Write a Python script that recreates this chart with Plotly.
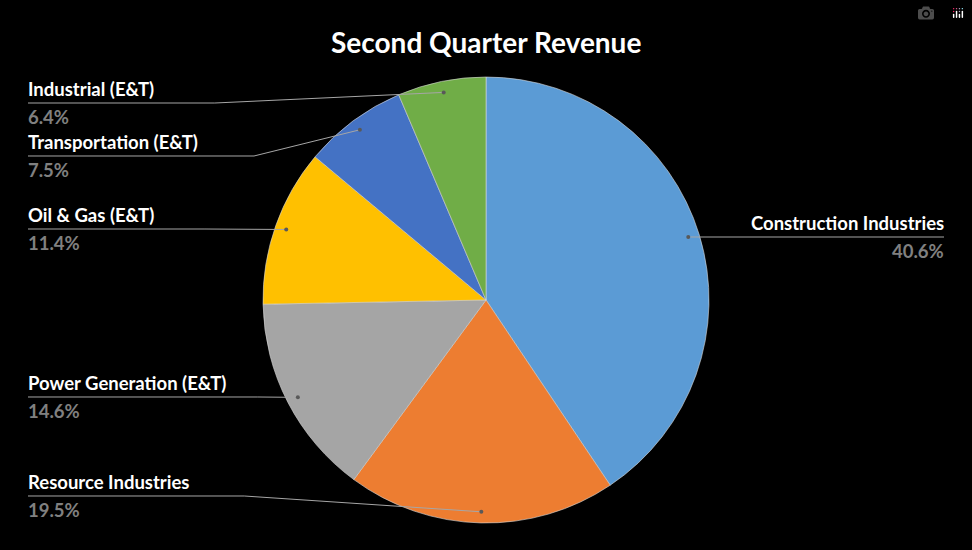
import math
import plotly.graph_objects as go

labels = ["Construction Industries", "Resource Industries", "Power Generation (E&T)",
          "Oil & Gas (E&T)", "Transportation (E&T)", "Industrial (E&T)"]
values = [40.6, 19.5, 14.6, 11.4, 7.5, 6.4]
colors = ["#5b9bd5", "#ed7d31", "#a5a5a5", "#ffc000", "#4472c4", "#70ad47"]
# label line y positions (pixels) and side
label_line_y = [237, 496, 397, 229, 156, 103]
label_side = ["right", "left", "left", "left", "left", "left"]

W, H = 972, 550
cx, cy, R = 486, 300, 223
FONT = "Lato"
FS = 18.5

fig = go.Figure(go.Pie(
    labels=labels, values=values, sort=False, direction="clockwise", rotation=0,
    marker=dict(colors=colors, line=dict(color="#d9d9d9", width=0.6)),
    textinfo="none", hoverinfo="label+percent", showlegend=False,
    domain=dict(x=[0, 1], y=[(H - (cy + R)) / H, (H - (cy - R)) / H]),
))

def px(x):
    return x / W

def py(y):
    return 1 - y / H

shapes, annots = [], []
total = sum(values)
cum = 0
for lab, v, ly, side in zip(labels, values, label_line_y, label_side):
    mid = 2 * math.pi * (cum + v / 2) / total
    cum += v
    r = 0.95 * R
    if side == "right":
        dy = ly - cy
        dx = math.sqrt(max(r * r - dy * dy, 0))
        dot = (cx + dx, ly)
        shapes.append(dict(type="line", xref="paper", yref="paper",
                           x0=px(944), x1=px(dot[0] + 2), y0=py(ly), y1=py(ly),
                           line=dict(color="#a6a6a6", width=1)))
        xa, xanc = 946, "right"
    else:
        dot = (cx + r * math.sin(mid), cy - r * math.cos(mid))
        xend = 28 + 9.8 * len(lab) + 30
        xend = min(xend, dot[0] - 40)
        shapes.append(dict(type="path", xref="paper", yref="paper",
                           path="M %f %f L %f %f L %f %f" % (px(28), py(ly), px(xend), py(ly), px(dot[0]), py(dot[1])),
                           line=dict(color="#a6a6a6", width=1)))
        xa, xanc = 26, "left"
    annots.append(dict(x=px(xa), y=py(ly - 1), xanchor=xanc, yanchor="bottom",
                       text="<b>%s</b>" % lab, font=dict(color="white", size=FS, family=FONT),
                       showarrow=False, xref="paper", yref="paper"))
    annots.append(dict(x=px(xa), y=py(ly + 1), xanchor=xanc, yanchor="top",
                       text="<b>%.1f%%</b>" % v, font=dict(color="#808080", size=FS, family=FONT),
                       showarrow=False, xref="paper", yref="paper"))
    shapes.append(dict(type="circle", xref="paper", yref="paper",
                       x0=px(dot[0] - 2), x1=px(dot[0] + 2), y0=py(dot[1] - 2), y1=py(dot[1] + 2),
                       fillcolor="#595959", line=dict(width=0)))

annots.append(dict(x=0.5, y=py(42), xanchor="center", yanchor="middle", xref="paper", yref="paper",
                   text="<b>Second Quarter Revenue</b>", showarrow=False,
                   font=dict(color="white", size=28, family=FONT)))

fig.update_layout(width=W, height=H, margin=dict(l=0, r=0, t=0, b=0),
                  paper_bgcolor="black", plot_bgcolor="black",
                  shapes=shapes, annotations=annots)
fig.write_html("out.html",
               post_script="document.body.style.margin='0';document.body.style.background='black';")
